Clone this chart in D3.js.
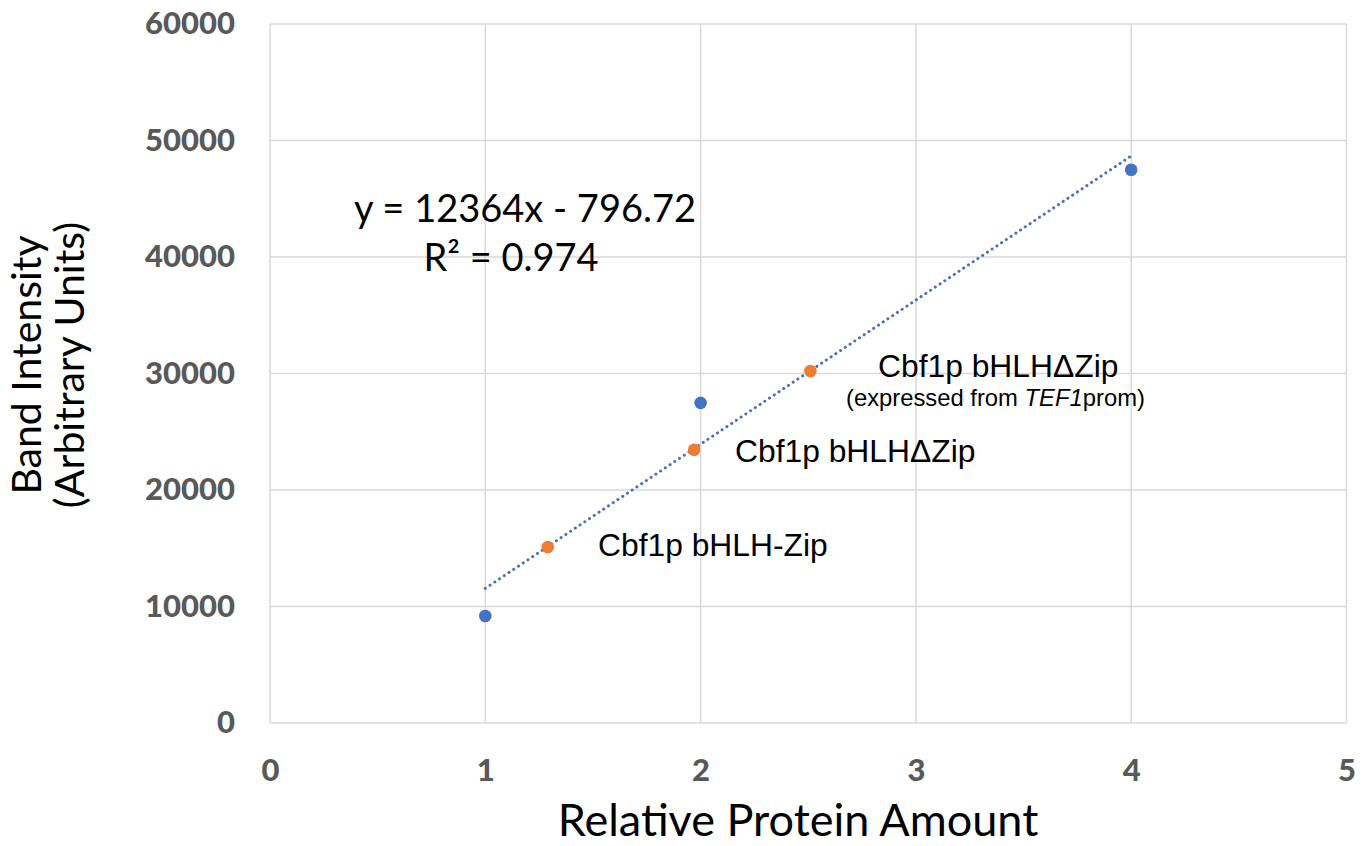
<!DOCTYPE html>
<html><head><meta charset="utf-8">
<script src="https://cdn.jsdelivr.net/npm/d3@7"></script>
<style>body{margin:0;background:#fff}</style>
</head><body>
<script>
// Data
const standardX = [1, 2, 4];
const standardY = [9190, 27480, 47490];
const sampleX = [1.29, 1.97, 2.51];
const sampleY = [15100, 23450, 30220];
const sampleLabels = ["Cbf1p bHLH-Zip", "Cbf1p bHLH\u0394Zip", "Cbf1p bHLH\u0394Zip"];
const xTicks = [0, 1, 2, 3, 4, 5];
const yTicks = [0, 10000, 20000, 30000, 40000, 50000, 60000];
const equationText = "y = 12364x - 796.72";
const r2Text = "0.974";

const W = 1367, H = 846;
const m = {left: 270, top: 24, right: 1346.5, bottom: 723};
const svg = d3.select("body").append("svg").attr("width", W).attr("height", H);
const x = d3.scaleLinear().domain([0, 5]).range([m.left, m.right]);
const y = d3.scaleLinear().domain([0, 60000]).range([m.bottom, m.top]);

// gridlines
svg.append("g").selectAll("line").data(yTicks).join("line")
  .attr("x1", m.left).attr("x2", m.right).attr("y1", d => y(d)).attr("y2", d => y(d))
  .attr("stroke", "#d9d9d9").attr("stroke-width", 1.5);
svg.append("g").selectAll("line").data(xTicks).join("line")
  .attr("y1", m.top).attr("y2", m.bottom).attr("x1", d => x(d)).attr("x2", d => x(d))
  .attr("stroke", "#d9d9d9").attr("stroke-width", 1.5);

// axes tick labels
const yAxis = d3.axisLeft(y).tickValues(yTicks).tickSize(0).tickPadding(35).tickFormat(d3.format("d"));
const gy = svg.append("g").attr("transform", `translate(${m.left},0)`).call(yAxis);
gy.select(".domain").remove();
gy.selectAll("text").attr("font-family", "Lato, sans-serif").attr("font-weight", 900)
  .attr("font-size", 31).attr("fill", "#595959");
const xAxis = d3.axisBottom(x).tickValues(xTicks).tickSize(0).tickPadding(36).tickFormat(d3.format("d"));
const gx = svg.append("g").attr("transform", `translate(0,${m.bottom})`).call(xAxis);
gx.select(".domain").remove();
gx.selectAll("text").attr("font-family", "Lato, sans-serif").attr("font-weight", 900)
  .attr("font-size", 31).attr("fill", "#595959");

// axis titles
svg.append("text").attr("x", 798).attr("y", 836).attr("text-anchor", "middle")
  .attr("font-family", "Lato, sans-serif").attr("font-size", 45).attr("fill", "#000")
  .text("Relative Protein Amount");
const yt = svg.append("text").attr("transform", "translate(43,365) rotate(-90)")
  .attr("text-anchor", "middle").attr("font-family", "Lato, sans-serif").attr("font-size", 41).attr("fill", "#000");
yt.append("tspan").attr("x", 0).attr("dy", -2).text("Band Intensity");
yt.append("tspan").attr("x", 0).attr("dy", 43).text("(Arbitrary Units)");

// trendline via linear regression of standards
const mx = d3.mean(standardX), my = d3.mean(standardY);
const sxy = d3.sum(standardX, (v, i) => (v - mx) * (standardY[i] - my));
const sxx = d3.sum(standardX, v => (v - mx) ** 2);
const slope = sxy / sxx, intercept = my - slope * mx;
const xr = d3.extent(standardX);
svg.append("path")
  .attr("d", d3.line().x(d => x(d)).y(d => y(slope * d + intercept))(xr))
  .attr("stroke", "#4a6fc0").attr("stroke-width", 3).attr("fill", "none")
  .attr("stroke-dasharray", "0.1 5.6").attr("stroke-linecap", "round");

// points
svg.append("g").selectAll("circle").data(standardX).join("circle")
  .attr("cx", d => x(d)).attr("cy", (d, i) => y(standardY[i])).attr("r", 6.3)
  .attr("fill", "#4472C4");
svg.append("g").selectAll("circle").data(sampleX).join("circle")
  .attr("cx", d => x(d)).attr("cy", (d, i) => y(sampleY[i])).attr("r", 6.3)
  .attr("fill", "#ED7D31");

// equation
const eq = svg.append("g").attr("font-family", "Lato, sans-serif").attr("font-size", 38).attr("fill", "#000").attr("text-anchor", "middle");
eq.append("text").attr("x", 525).attr("y", 222).text(equationText);
const r2 = eq.append("text").attr("x", 511).attr("y", 271);
r2.append("tspan").text("R\u00B2 = " + r2Text);

// sample annotations
const ann = svg.append("g").attr("font-family", "'Liberation Sans', Arial, sans-serif").attr("fill", "#000");
const annPos = [[598, 556], [735, 462], [878, 377]];
ann.selectAll("text.lbl").data(sampleLabels).join("text").attr("class", "lbl")
  .attr("x", (d, i) => annPos[i][0]).attr("y", (d, i) => annPos[i][1])
  .attr("font-size", 31.8).text(d => d);
const sub = ann.append("text").attr("x", 846).attr("y", 406).attr("font-size", 23.8);
sub.append("tspan").text("(expressed from ");
sub.append("tspan").attr("font-style", "italic").text("TEF1");
sub.append("tspan").text("prom)");
</script>
</body></html>
